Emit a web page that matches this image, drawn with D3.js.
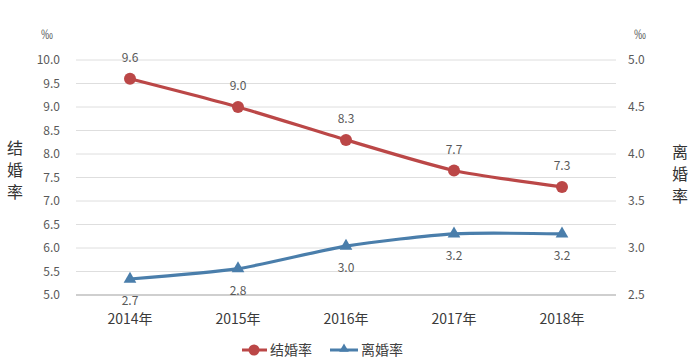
<!DOCTYPE html>
<html><head><meta charset="utf-8">
<script src="https://cdn.jsdelivr.net/npm/d3@7/dist/d3.min.js"></script>
<style>body{margin:0;background:#fff}svg{display:block;font-family:"Noto Sans CJK SC","Open Sans",sans-serif}</style>
</head><body><svg id="c" width="700" height="364"></svg>
<script>
const years = ["2014年","2015年","2016年","2017年","2018年"];
const marriage = [9.6, 9.0, 8.3, 7.65, 7.3];
const marriageLabels = ["9.6","9.0","8.3","7.7","7.3"];
const divorce = [2.67, 2.78, 3.02, 3.15, 3.15];
const divorceLabels = ["2.7","2.8","3.0","3.2","3.2"];
const leftTicks = [5.0,5.5,6.0,6.5,7.0,7.5,8.0,8.5,9.0,9.5,10.0];
const rightTicks = [2.5,3.0,3.5,4.0,4.5,5.0];

const svg = d3.select("#c");
const L = 76, R = 616, T = 60, B = 295;
const x = d3.scalePoint().domain(years).range([L, R]).padding(0.5);
const yL = d3.scaleLinear().domain([5, 10]).range([B, T]);
const yR = d3.scaleLinear().domain([2.5, 5]).range([B, T]);

// grid
svg.append("g").selectAll("line").data(leftTicks).join("line")
  .attr("x1", L).attr("x2", R).attr("y1", d => yL(d)).attr("y2", d => yL(d))
  .attr("stroke", d => d === 5 ? "#bfbfbf" : "#dedede").attr("stroke-width", d => d === 5 ? 1.5 : 1);

const tickColor = "#595959";
svg.append("g").selectAll("text").data(leftTicks).join("text")
  .attr("x", 60).attr("y", d => yL(d)).attr("dy", "0.35em").attr("text-anchor", "end")
  .attr("font-size", 12).attr("fill", tickColor).text(d => d.toFixed(1));
svg.append("g").selectAll("text").data(rightTicks).join("text")
  .attr("x", 628).attr("y", d => yR(d)).attr("dy", "0.35em").attr("text-anchor", "start")
  .attr("font-size", 12).attr("fill", tickColor).text(d => d.toFixed(1));

svg.append("text").attr("x", 47).attr("y", 35).attr("dy","0.35em").attr("text-anchor","middle").attr("font-size",12).attr("fill",tickColor).text("‰");
svg.append("text").attr("x", 640).attr("y", 35).attr("dy","0.35em").attr("text-anchor","middle").attr("font-size",12).attr("fill",tickColor).text("‰");

// axis titles
["结","婚","率"].forEach((c,i)=>{
  svg.append("text").attr("x",15).attr("y",148+i*22).attr("dy","0.35em").attr("text-anchor","middle").attr("font-size",16).attr("fill","#333").text(c);
});
["离","婚","率"].forEach((c,i)=>{
  svg.append("text").attr("x",680).attr("y",152+i*22).attr("dy","0.35em").attr("text-anchor","middle").attr("font-size",16).attr("fill","#333").text(c);
});

// x labels
svg.append("g").selectAll("text").data(years).join("text")
  .attr("x", d => x(d)).attr("y", 319).attr("dy","0.35em").attr("text-anchor","middle")
  .attr("font-size", 14).attr("fill", "#3a3a3a").text(d => d);

const red = "#bb4747", blue = "#4a7eab";
const curve = d3.curveCardinal.tension(0.3);

const lineM = d3.line().x((d,i)=>x(years[i])).y(d=>yL(d)).curve(curve);
svg.append("path").datum(marriage).attr("d", lineM).attr("fill","none").attr("stroke",red).attr("stroke-width",3.2);
svg.append("g").selectAll("circle").data(marriage).join("circle")
  .attr("cx",(d,i)=>x(years[i])).attr("cy",d=>yL(d)).attr("r",6).attr("fill",red);
svg.append("g").selectAll("text").data(marriage).join("text")
  .attr("x",(d,i)=>x(years[i])).attr("y",d=>yL(d)-21).attr("dy","0.35em").attr("text-anchor","middle")
  .attr("font-size",12).attr("fill",tickColor).text((d,i)=>marriageLabels[i]);

const lineD = d3.line().x((d,i)=>x(years[i])).y(d=>yR(d)).curve(curve);
svg.append("path").datum(divorce).attr("d", lineD).attr("fill","none").attr("stroke",blue).attr("stroke-width",3.2);
const tri = d3.symbol().type(d3.symbolTriangle).size(70);
svg.append("g").selectAll("path").data(divorce).join("path")
  .attr("d", tri).attr("transform",(d,i)=>`translate(${x(years[i])},${yR(d)})`).attr("fill",blue);
svg.append("g").selectAll("text").data(divorce).join("text")
  .attr("x",(d,i)=>x(years[i])).attr("y",d=>yR(d)+22).attr("dy","0.35em").attr("text-anchor","middle")
  .attr("font-size",12).attr("fill",tickColor).text((d,i)=>divorceLabels[i]);

// legend
const lg = svg.append("g");
lg.append("line").attr("x1",242).attr("x2",267).attr("y1",350).attr("y2",350).attr("stroke",red).attr("stroke-width",3);
lg.append("circle").attr("cx",254).attr("cy",350).attr("r",5.5).attr("fill",red);
lg.append("text").attr("x",270).attr("y",350).attr("dy","0.35em").attr("font-size",14).attr("fill","#404040").text("结婚率");
lg.append("line").attr("x1",330).attr("x2",358).attr("y1",350).attr("y2",350).attr("stroke",blue).attr("stroke-width",3);
lg.append("path").attr("d", d3.symbol().type(d3.symbolTriangle).size(40)).attr("transform","translate(344,349)").attr("fill",blue);
lg.append("text").attr("x",361).attr("y",350).attr("dy","0.35em").attr("font-size",14).attr("fill","#404040").text("离婚率");
</script></body></html>
